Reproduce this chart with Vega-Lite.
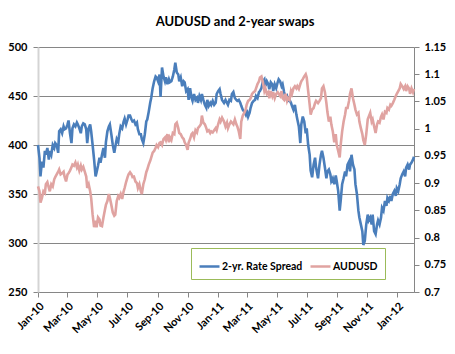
{
"$schema": "https://vega.github.io/schema/vega-lite/v6.json",
"width": 376, "height": 245,
"autosize": {"type": "none"},
"padding": {"left": 38, "top": 47, "right": 41, "bottom": 62},
"background": "white",
"title": {"text": "AUDUSD and 2-year swaps", "font": "Lato", "fontSize": 13, "fontWeight": "bold", "color": "#000000", "anchor": "middle", "frame": "group", "dx": 9, "offset": 2, "baseline": "alphabetic"},
"config": {"view": {"stroke": null}, "font": "Lato"},
"data": {"values": [
{"date":"2010-01-01","spread":400,"audusd":0.894},
{"date":"2010-01-04","spread":387,"audusd":0.885},
{"date":"2010-01-06","spread":368,"audusd":0.864},
{"date":"2010-01-09","spread":383,"audusd":0.873},
{"date":"2010-01-12","spread":377,"audusd":0.885},
{"date":"2010-01-15","spread":394,"audusd":0.882},
{"date":"2010-01-17","spread":390,"audusd":0.898},
{"date":"2010-01-20","spread":397,"audusd":0.902},
{"date":"2010-01-23","spread":385,"audusd":0.891},
{"date":"2010-01-25","spread":394,"audusd":0.885},
{"date":"2010-01-28","spread":390,"audusd":0.898},
{"date":"2010-01-31","spread":400,"audusd":0.894},
{"date":"2010-02-03","spread":397,"audusd":0.907},
{"date":"2010-02-05","spread":402,"audusd":0.911},
{"date":"2010-02-08","spread":400,"audusd":0.916},
{"date":"2010-02-11","spread":392,"audusd":0.921},
{"date":"2010-02-13","spread":414,"audusd":0.925},
{"date":"2010-02-16","spread":416,"audusd":0.916},
{"date":"2010-02-19","spread":412,"audusd":0.918},
{"date":"2010-02-22","spread":419,"audusd":0.921},
{"date":"2010-02-24","spread":416,"audusd":0.912},
{"date":"2010-02-27","spread":417,"audusd":0.903},
{"date":"2010-03-02","spread":421,"audusd":0.916},
{"date":"2010-03-04","spread":425,"audusd":0.918},
{"date":"2010-03-07","spread":412,"audusd":0.923},
{"date":"2010-03-10","spread":402,"audusd":0.929},
{"date":"2010-03-12","spread":417,"audusd":0.934},
{"date":"2010-03-15","spread":421,"audusd":0.932},
{"date":"2010-03-18","spread":419,"audusd":0.938},
{"date":"2010-03-21","spread":423,"audusd":0.929},
{"date":"2010-03-23","spread":421,"audusd":0.934},
{"date":"2010-03-26","spread":417,"audusd":0.923},
{"date":"2010-03-29","spread":412,"audusd":0.932},
{"date":"2010-03-31","spread":419,"audusd":0.925},
{"date":"2010-04-03","spread":422,"audusd":0.930},
{"date":"2010-04-06","spread":421,"audusd":0.921},
{"date":"2010-04-09","spread":416,"audusd":0.912},
{"date":"2010-04-11","spread":402,"audusd":0.891},
{"date":"2010-04-14","spread":417,"audusd":0.898},
{"date":"2010-04-17","spread":421,"audusd":0.885},
{"date":"2010-04-19","spread":414,"audusd":0.873},
{"date":"2010-04-22","spread":400,"audusd":0.842},
{"date":"2010-04-25","spread":385,"audusd":0.819},
{"date":"2010-04-28","spread":368,"audusd":0.831},
{"date":"2010-04-30","spread":372,"audusd":0.819},
{"date":"2010-05-03","spread":379,"audusd":0.837},
{"date":"2010-05-06","spread":387,"audusd":0.833},
{"date":"2010-05-08","spread":382,"audusd":0.822},
{"date":"2010-05-11","spread":390,"audusd":0.821},
{"date":"2010-05-14","spread":397,"audusd":0.837},
{"date":"2010-05-17","spread":387,"audusd":0.851},
{"date":"2010-05-19","spread":403,"audusd":0.860},
{"date":"2010-05-22","spread":414,"audusd":0.867},
{"date":"2010-05-25","spread":419,"audusd":0.880},
{"date":"2010-05-27","spread":421,"audusd":0.873},
{"date":"2010-05-30","spread":411,"audusd":0.860},
{"date":"2010-06-02","spread":400,"audusd":0.846},
{"date":"2010-06-05","spread":392,"audusd":0.840},
{"date":"2010-06-07","spread":398,"audusd":0.842},
{"date":"2010-06-10","spread":406,"audusd":0.867},
{"date":"2010-06-13","spread":403,"audusd":0.876},
{"date":"2010-06-15","spread":411,"audusd":0.873},
{"date":"2010-06-18","spread":419,"audusd":0.880},
{"date":"2010-06-21","spread":417,"audusd":0.871},
{"date":"2010-06-24","spread":424,"audusd":0.885},
{"date":"2010-06-26","spread":427,"audusd":0.891},
{"date":"2010-06-29","spread":421,"audusd":0.902},
{"date":"2010-07-02","spread":426,"audusd":0.911},
{"date":"2010-07-04","spread":430,"audusd":0.916},
{"date":"2010-07-07","spread":430,"audusd":0.920},
{"date":"2010-07-10","spread":426,"audusd":0.916},
{"date":"2010-07-12","spread":424,"audusd":0.911},
{"date":"2010-07-15","spread":425,"audusd":0.912},
{"date":"2010-07-18","spread":421,"audusd":0.903},
{"date":"2010-07-21","spread":423,"audusd":0.900},
{"date":"2010-07-23","spread":416,"audusd":0.891},
{"date":"2010-07-26","spread":411,"audusd":0.898},
{"date":"2010-07-29","spread":411,"audusd":0.885},
{"date":"2010-07-31","spread":406,"audusd":0.880},
{"date":"2010-08-03","spread":402,"audusd":0.898},
{"date":"2010-08-06","spread":411,"audusd":0.907},
{"date":"2010-08-09","spread":424,"audusd":0.920},
{"date":"2010-08-11","spread":426,"audusd":0.925},
{"date":"2010-08-14","spread":434,"audusd":0.934},
{"date":"2010-08-17","spread":443,"audusd":0.941},
{"date":"2010-08-19","spread":448,"audusd":0.947},
{"date":"2010-08-22","spread":458,"audusd":0.956},
{"date":"2010-08-25","spread":465,"audusd":0.959},
{"date":"2010-08-28","spread":470,"audusd":0.965},
{"date":"2010-08-30","spread":469,"audusd":0.970},
{"date":"2010-09-02","spread":465,"audusd":0.966},
{"date":"2010-09-05","spread":472,"audusd":0.974},
{"date":"2010-09-07","spread":449,"audusd":0.975},
{"date":"2010-09-10","spread":479,"audusd":0.970},
{"date":"2010-09-13","spread":470,"audusd":0.981},
{"date":"2010-09-16","spread":465,"audusd":0.984},
{"date":"2010-09-18","spread":469,"audusd":0.979},
{"date":"2010-09-21","spread":462,"audusd":0.990},
{"date":"2010-09-24","spread":467,"audusd":0.975},
{"date":"2010-09-26","spread":464,"audusd":0.984},
{"date":"2010-09-29","spread":465,"audusd":0.979},
{"date":"2010-10-02","spread":470,"audusd":0.992},
{"date":"2010-10-05","spread":477,"audusd":0.990},
{"date":"2010-10-07","spread":484,"audusd":1.008},
{"date":"2010-10-10","spread":474,"audusd":1.011},
{"date":"2010-10-13","spread":472,"audusd":1.001},
{"date":"2010-10-15","spread":465,"audusd":0.992},
{"date":"2010-10-18","spread":469,"audusd":0.990},
{"date":"2010-10-21","spread":460,"audusd":0.984},
{"date":"2010-10-24","spread":465,"audusd":0.981},
{"date":"2010-10-26","spread":464,"audusd":0.975},
{"date":"2010-10-29","spread":455,"audusd":0.970},
{"date":"2010-11-01","spread":457,"audusd":0.961},
{"date":"2010-11-03","spread":446,"audusd":0.974},
{"date":"2010-11-06","spread":458,"audusd":0.981},
{"date":"2010-11-09","spread":448,"audusd":0.990},
{"date":"2010-11-11","spread":445,"audusd":0.992},
{"date":"2010-11-14","spread":452,"audusd":0.984},
{"date":"2010-11-17","spread":446,"audusd":0.997},
{"date":"2010-11-20","spread":448,"audusd":0.993},
{"date":"2010-11-22","spread":443,"audusd":1.001},
{"date":"2010-11-25","spread":450,"audusd":1.004},
{"date":"2010-11-28","spread":446,"audusd":1.008},
{"date":"2010-11-30","spread":452,"audusd":1.024},
{"date":"2010-12-03","spread":446,"audusd":1.011},
{"date":"2010-12-06","spread":441,"audusd":1.008},
{"date":"2010-12-09","spread":438,"audusd":1.001},
{"date":"2010-12-11","spread":446,"audusd":0.995},
{"date":"2010-12-14","spread":440,"audusd":0.997},
{"date":"2010-12-17","spread":443,"audusd":0.992},
{"date":"2010-12-19","spread":441,"audusd":0.995},
{"date":"2010-12-22","spread":445,"audusd":0.993},
{"date":"2010-12-25","spread":441,"audusd":0.997},
{"date":"2010-12-28","spread":443,"audusd":1.001},
{"date":"2010-12-30","spread":452,"audusd":0.997},
{"date":"2011-01-02","spread":455,"audusd":1.008},
{"date":"2011-01-05","spread":457,"audusd":1.017},
{"date":"2011-01-07","spread":452,"audusd":1.013},
{"date":"2011-01-10","spread":446,"audusd":1.020},
{"date":"2011-01-14","spread":443,"audusd":1.013},
{"date":"2011-01-17","spread":446,"audusd":1.004},
{"date":"2011-01-20","spread":443,"audusd":1.011},
{"date":"2011-01-22","spread":441,"audusd":1.001},
{"date":"2011-01-25","spread":446,"audusd":1.008},
{"date":"2011-01-28","spread":445,"audusd":1.013},
{"date":"2011-01-30","spread":452,"audusd":1.011},
{"date":"2011-02-02","spread":454,"audusd":1.008},
{"date":"2011-02-05","spread":448,"audusd":1.017},
{"date":"2011-02-08","spread":446,"audusd":1.008},
{"date":"2011-02-10","spread":445,"audusd":1.004},
{"date":"2011-02-13","spread":446,"audusd":0.995},
{"date":"2011-02-16","spread":443,"audusd":0.981},
{"date":"2011-02-18","spread":440,"audusd":1.013},
{"date":"2011-02-21","spread":436,"audusd":1.024},
{"date":"2011-02-24","spread":434,"audusd":1.029},
{"date":"2011-02-27","spread":431,"audusd":1.035},
{"date":"2011-03-01","spread":436,"audusd":1.044},
{"date":"2011-03-04","spread":429,"audusd":1.051},
{"date":"2011-03-07","spread":433,"audusd":1.053},
{"date":"2011-03-09","spread":438,"audusd":1.056},
{"date":"2011-03-12","spread":443,"audusd":1.064},
{"date":"2011-03-15","spread":445,"audusd":1.067},
{"date":"2011-03-18","spread":446,"audusd":1.069},
{"date":"2011-03-20","spread":450,"audusd":1.074},
{"date":"2011-03-23","spread":448,"audusd":1.082},
{"date":"2011-03-26","spread":454,"audusd":1.087},
{"date":"2011-03-28","spread":455,"audusd":1.094},
{"date":"2011-03-31","spread":458,"audusd":1.096},
{"date":"2011-04-03","spread":465,"audusd":1.085},
{"date":"2011-04-06","spread":467,"audusd":1.069},
{"date":"2011-04-08","spread":460,"audusd":1.074},
{"date":"2011-04-11","spread":465,"audusd":1.064},
{"date":"2011-04-14","spread":462,"audusd":1.067},
{"date":"2011-04-16","spread":457,"audusd":1.056},
{"date":"2011-04-19","spread":464,"audusd":1.069},
{"date":"2011-04-22","spread":462,"audusd":1.060},
{"date":"2011-04-24","spread":455,"audusd":1.067},
{"date":"2011-04-27","spread":462,"audusd":1.056},
{"date":"2011-04-30","spread":458,"audusd":1.064},
{"date":"2011-05-03","spread":464,"audusd":1.067},
{"date":"2011-05-05","spread":467,"audusd":1.064},
{"date":"2011-05-08","spread":465,"audusd":1.060},
{"date":"2011-05-11","spread":460,"audusd":1.069},
{"date":"2011-05-13","spread":462,"audusd":1.056},
{"date":"2011-05-16","spread":454,"audusd":1.053},
{"date":"2011-05-19","spread":448,"audusd":1.064},
{"date":"2011-05-22","spread":450,"audusd":1.051},
{"date":"2011-05-24","spread":445,"audusd":1.056},
{"date":"2011-05-27","spread":446,"audusd":1.053},
{"date":"2011-05-30","spread":443,"audusd":1.069},
{"date":"2011-06-01","spread":440,"audusd":1.064},
{"date":"2011-06-04","spread":436,"audusd":1.074},
{"date":"2011-06-07","spread":441,"audusd":1.078},
{"date":"2011-06-10","spread":431,"audusd":1.074},
{"date":"2011-06-12","spread":426,"audusd":1.078},
{"date":"2011-06-15","spread":419,"audusd":1.073},
{"date":"2011-06-18","spread":402,"audusd":1.082},
{"date":"2011-06-20","spread":421,"audusd":1.087},
{"date":"2011-06-23","spread":429,"audusd":1.091},
{"date":"2011-06-26","spread":424,"audusd":1.096},
{"date":"2011-06-29","spread":412,"audusd":1.100},
{"date":"2011-07-01","spread":417,"audusd":1.094},
{"date":"2011-07-04","spread":400,"audusd":1.069},
{"date":"2011-07-07","spread":390,"audusd":1.044},
{"date":"2011-07-09","spread":374,"audusd":1.026},
{"date":"2011-07-12","spread":367,"audusd":1.035},
{"date":"2011-07-15","spread":380,"audusd":1.038},
{"date":"2011-07-18","spread":387,"audusd":1.047},
{"date":"2011-07-20","spread":377,"audusd":1.051},
{"date":"2011-07-24","spread":366,"audusd":1.047},
{"date":"2011-07-27","spread":380,"audusd":1.051},
{"date":"2011-07-30","spread":390,"audusd":1.056},
{"date":"2011-08-01","spread":394,"audusd":1.074},
{"date":"2011-08-04","spread":387,"audusd":1.078},
{"date":"2011-08-07","spread":377,"audusd":1.067},
{"date":"2011-08-10","spread":366,"audusd":1.047},
{"date":"2011-08-12","spread":373,"audusd":1.031},
{"date":"2011-08-15","spread":375,"audusd":1.013},
{"date":"2011-08-18","spread":370,"audusd":1.022},
{"date":"2011-08-20","spread":363,"audusd":1.008},
{"date":"2011-08-23","spread":366,"audusd":0.995},
{"date":"2011-08-26","spread":360,"audusd":0.975},
{"date":"2011-08-29","spread":369,"audusd":0.990},
{"date":"2011-08-31","spread":363,"audusd":0.970},
{"date":"2011-09-03","spread":353,"audusd":0.959},
{"date":"2011-09-06","spread":333,"audusd":0.947},
{"date":"2011-09-08","spread":343,"audusd":0.970},
{"date":"2011-09-11","spread":360,"audusd":0.995},
{"date":"2011-09-14","spread":366,"audusd":1.013},
{"date":"2011-09-17","spread":373,"audusd":1.026},
{"date":"2011-09-19","spread":368,"audusd":1.038},
{"date":"2011-09-22","spread":380,"audusd":1.038},
{"date":"2011-09-25","spread":383,"audusd":1.051},
{"date":"2011-09-27","spread":373,"audusd":1.064},
{"date":"2011-09-30","spread":390,"audusd":1.074},
{"date":"2011-10-03","spread":380,"audusd":1.056},
{"date":"2011-10-06","spread":375,"audusd":1.044},
{"date":"2011-10-08","spread":360,"audusd":1.035},
{"date":"2011-10-11","spread":350,"audusd":1.026},
{"date":"2011-10-14","spread":333,"audusd":1.029},
{"date":"2011-10-16","spread":326,"audusd":1.013},
{"date":"2011-10-19","spread":319,"audusd":1.001},
{"date":"2011-10-22","spread":312,"audusd":0.990},
{"date":"2011-10-24","spread":298,"audusd":0.979},
{"date":"2011-10-27","spread":302,"audusd":0.970},
{"date":"2011-10-30","spread":319,"audusd":0.990},
{"date":"2011-11-02","spread":329,"audusd":1.017},
{"date":"2011-11-04","spread":323,"audusd":1.022},
{"date":"2011-11-07","spread":326,"audusd":1.029},
{"date":"2011-11-10","spread":319,"audusd":1.013},
{"date":"2011-11-12","spread":329,"audusd":1.017},
{"date":"2011-11-15","spread":312,"audusd":1.004},
{"date":"2011-11-18","spread":309,"audusd":0.992},
{"date":"2011-11-21","spread":319,"audusd":1.008},
{"date":"2011-11-23","spread":323,"audusd":1.013},
{"date":"2011-11-26","spread":319,"audusd":1.011},
{"date":"2011-11-29","spread":326,"audusd":1.022},
{"date":"2011-12-01","spread":336,"audusd":1.026},
{"date":"2011-12-04","spread":333,"audusd":1.017},
{"date":"2011-12-07","spread":343,"audusd":1.031},
{"date":"2011-12-10","spread":338,"audusd":1.029},
{"date":"2011-12-12","spread":346,"audusd":1.038},
{"date":"2011-12-15","spread":343,"audusd":1.035},
{"date":"2011-12-18","spread":348,"audusd":1.044},
{"date":"2011-12-20","spread":343,"audusd":1.042},
{"date":"2011-12-23","spread":350,"audusd":1.047},
{"date":"2011-12-26","spread":353,"audusd":1.053},
{"date":"2011-12-29","spread":348,"audusd":1.060},
{"date":"2011-12-31","spread":356,"audusd":1.064},
{"date":"2012-01-03","spread":353,"audusd":1.069},
{"date":"2012-01-06","spread":360,"audusd":1.074},
{"date":"2012-01-08","spread":366,"audusd":1.082},
{"date":"2012-01-11","spread":370,"audusd":1.078},
{"date":"2012-01-14","spread":373,"audusd":1.073},
{"date":"2012-01-17","spread":368,"audusd":1.078},
{"date":"2012-01-19","spread":377,"audusd":1.069},
{"date":"2012-01-22","spread":380,"audusd":1.078},
{"date":"2012-01-25","spread":375,"audusd":1.074},
{"date":"2012-01-27","spread":380,"audusd":1.064},
{"date":"2012-01-30","spread":382,"audusd":1.074},
{"date":"2012-02-02","spread":385,"audusd":1.067},
{"date":"2012-02-04","spread":388,"audusd":1.073}
]},
"encoding": {
  "x": {"field": "date", "type": "temporal",
    "scale": {"domain": [{"year": 2010, "month": 1, "date": 1}, {"year": 2012, "month": 2, "date": 4}], "nice": false},
    "axis": {"title": null, "format": "%b-%y", "tickCount": {"interval": "month", "step": 2}, "labelAngle": -45, "labelFont": "Lato", "labelFontWeight": "bold", "labelFontSize": 11, "labelColor": "#000000", "domainColor": "#868686", "tickColor": "#868686", "tickSize": 5, "grid": false, "labelPadding": 3, "labelOverlap": false, "labelFlush": false, "labelBound": false}}
},
"layer": [
  {"mark": {"type": "line", "strokeWidth": 2.6, "interpolate": "linear"},
   "encoding": {
     "y": {"field": "spread", "type": "quantitative", "scale": {"domain": [250, 500], "nice": false, "zero": false},
       "axis": {"title": null, "orient": "left", "values": [250, 300, 350, 400, 450, 500], "grid": true, "gridColor": "#868686", "gridWidth": 1, "domainColor": "#D4D4D4", "domainWidth": 2, "tickColor": "#868686", "tickSize": 5, "labelPadding": 6, "labelFont": "Lato", "labelFontWeight": "bold", "labelFontSize": 11, "labelColor": "#000000"}},
     "color": {"datum": "2-yr. Rate Spread", "type": "nominal",
       "scale": {"domain": ["2-yr. Rate Spread", "AUDUSD"], "range": ["#4A7EBB", "#E0A3A1"]},
       "legend": {"orient": "none", "legendX": 153, "legendY": 201, "direction": "horizontal", "title": null, "symbolType": "stroke", "symbolSize": 400, "symbolStrokeWidth": 2.5, "labelFont": "Lato", "labelFontSize": 10.5, "labelFontWeight": "bold", "labelColor": "#000000", "strokeColor": "#9BBB59", "fillColor": "white", "padding": 7, "columnPadding": 2, "labelOffset": 1}}
   }},
  {"mark": {"type": "line", "strokeWidth": 2.6, "interpolate": "linear"},
   "encoding": {
     "y": {"field": "audusd", "type": "quantitative", "scale": {"domain": [0.7, 1.15], "nice": false, "zero": false},
       "axis": {"title": null, "orient": "right", "values": [0.7, 0.75, 0.8, 0.85, 0.9, 0.95, 1, 1.05, 1.1, 1.15], "format": "~g", "grid": false, "domainColor": "#868686", "tickColor": "#868686", "tickSize": 5, "labelPadding": 5, "labelFont": "Lato", "labelFontWeight": "bold", "labelFontSize": 11, "labelColor": "#000000"}},
     "color": {"datum": "AUDUSD", "type": "nominal"}
   }}
],
"resolve": {"scale": {"y": "independent"}}
}
